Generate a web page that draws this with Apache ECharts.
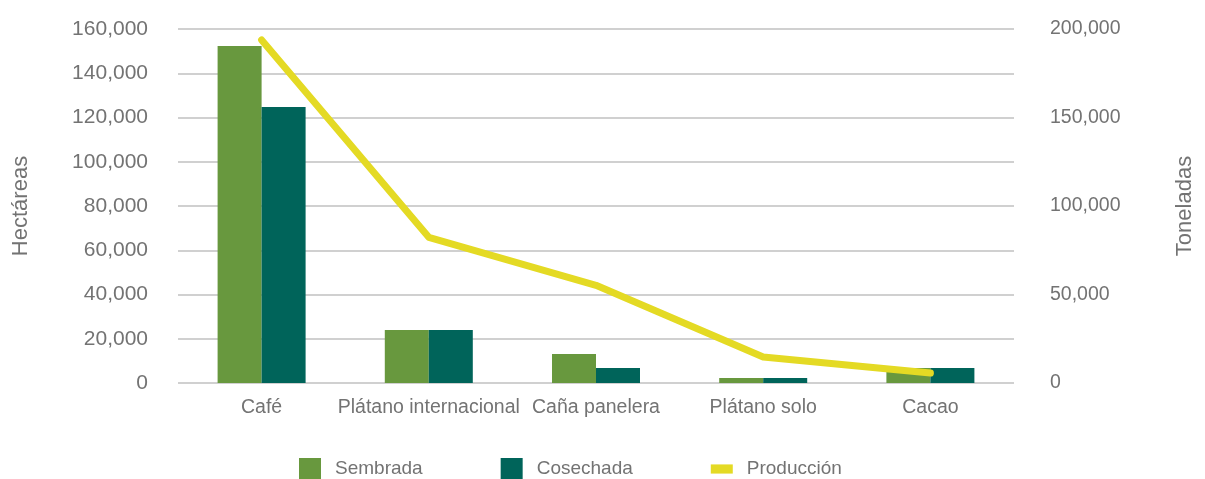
<!DOCTYPE html>
<html>
<head>
<meta charset="utf-8">
<script src="https://cdn.jsdelivr.net/npm/echarts@6/dist/echarts.min.js"></script>
<style>
html,body{margin:0;padding:0;background:#fff;}
#chart{width:1205px;height:479px;}
</style>
</head>
<body>
<div id="chart"></div>
<script>
const categories = ['Café', 'Plátano internacional', 'Caña panelera', 'Plátano solo', 'Cacao'];
const sembrada = [152300, 24000, 13100, 2300, 6800];
const cosechada = [124800, 24000, 6800, 2300, 6800];
const produccion = [193800, 82300, 55200, 14700, 5600];
const leftTicks = { min: 0, max: 160000, interval: 20000 };
const rightTicks = { min: 0, max: 200000, interval: 50000 };

const FONT = '"Liberation Sans", Arial, sans-serif';
const GRAY = '#737373';
const fmt = v => v.toLocaleString('en-US');

const chart = echarts.init(document.getElementById('chart'), null, { renderer: 'canvas' });
chart.setOption({
  animation: false,
  textStyle: { fontFamily: FONT, color: GRAY },
  grid: { left: 178, right: 191, top: 29, bottom: 96, containLabel: false, outerBoundsMode: 'none' },
  legend: {
    left: 294,
    top: 453,
    itemWidth: 22,
    itemHeight: 22,
    itemGap: 78,
    textStyle: { fontFamily: FONT, fontSize: 19, color: GRAY, padding: [0, 0, 0, 9] },
    data: [
      { name: 'Sembrada', icon: 'rect' },
      { name: 'Cosechada', icon: 'rect' },
      { name: 'Producción', icon: 'path://M0,0h24v10h-24z' }
    ]
  },
  xAxis: {
    type: 'category',
    data: categories,
    axisLine: { show: false },
    axisTick: { show: false },
    axisLabel: { fontSize: 19.5, color: GRAY, margin: 15, interval: 0, fontFamily: FONT }
  },
  yAxis: [
    {
      type: 'value',
      min: leftTicks.min, max: leftTicks.max, interval: leftTicks.interval,
      name: 'Hectáreas',
      nameLocation: 'middle',
      nameGap: 146,
      nameRotate: 90,
      nameTextStyle: { fontSize: 22, color: GRAY, fontFamily: FONT },
      axisLine: { show: false },
      axisTick: { show: false },
      axisLabel: { fontSize: 21, color: GRAY, margin: 30, formatter: fmt, fontFamily: FONT },
      splitLine: { lineStyle: { color: '#d0d0d0', width: 2 } }
    },
    {
      type: 'value',
      min: rightTicks.min, max: rightTicks.max, interval: rightTicks.interval,
      name: 'Toneladas',
      nameLocation: 'middle',
      nameGap: 160,
      nameRotate: 90,
      nameTextStyle: { fontSize: 22, color: GRAY, fontFamily: FONT },
      axisLine: { show: false },
      axisTick: { show: false },
      axisLabel: { fontSize: 19.5, color: GRAY, margin: 36, formatter: fmt, fontFamily: FONT },
      splitLine: { show: false }
    }
  ],
  series: [
    {
      name: 'Sembrada', type: 'bar', data: sembrada, yAxisIndex: 0,
      barWidth: 44, barGap: '0%',
      itemStyle: { color: '#68983E' }
    },
    {
      name: 'Cosechada', type: 'bar', data: cosechada, yAxisIndex: 0,
      barWidth: 44, barGap: '0%',
      itemStyle: { color: '#00645A' }
    },
    {
      name: 'Producción', type: 'line', data: produccion, yAxisIndex: 1,
      symbol: 'none',
      lineStyle: { color: '#E4DA24', width: 7, cap: 'round', join: 'round' },
      itemStyle: { color: '#E4DA24' },
      z: 5
    }
  ]
});
</script>
</body>
</html>
